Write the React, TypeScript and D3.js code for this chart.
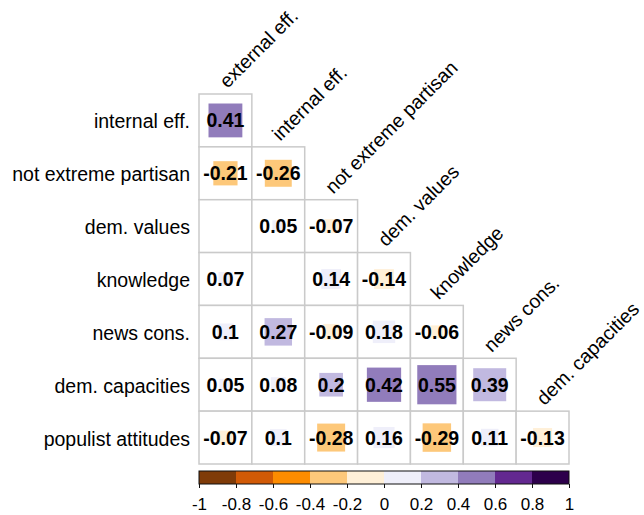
import { useEffect, useRef } from "react";
import * as d3 from "d3";

const colLabels = [
  "external eff.",
  "internal eff.",
  "not extreme partisan",
  "dem. values",
  "knowledge",
  "news cons.",
  "dem. capacities",
];
const rowLabels = [
  "internal eff.",
  "not extreme partisan",
  "dem. values",
  "knowledge",
  "news cons.",
  "dem. capacities",
  "populist attitudes",
];

// lower triangle, null = not shown
const corrRows: (number | null)[][] = [
  [0.41],
  [-0.21, -0.26],
  [null, 0.05, -0.07],
  [0.07, null, 0.14, -0.14],
  [0.1, 0.27, -0.09, 0.18, -0.06],
  [0.05, 0.08, 0.2, 0.42, 0.55, 0.39],
  [-0.07, 0.1, -0.28, 0.16, -0.29, 0.11, -0.13],
];

const binColors = [
  "#7f3b08",
  "#d15a06",
  "#fd8c00",
  "#fdc87a",
  "#fff0d8",
  "#efeffa",
  "#c1b9e0",
  "#917cbb",
  "#632890",
  "#2d004b",
];
const legendTicks = [-1, -0.8, -0.6, -0.4, -0.2, 0, 0.2, 0.4, 0.6, 0.8, 1];

const W = 644;
const H = 515;
const FONT = "Liberation Sans, Arial, sans-serif";

export default function App() {
  const ref = useRef<SVGSVGElement>(null);

  useEffect(() => {
    if (!ref.current) return;
    const svg = d3.select(ref.current);
    svg.selectAll("*").remove();

    const x = d3.scaleBand<string>().domain(colLabels).range([199, 569]);
    const y = d3.scaleBand<string>().domain(rowLabels).range([94, 464]);
    const bw = x.bandwidth();
    const color = d3.scaleQuantize<string>().domain([-1, 1]).range(binColors);
    const size = d3.scaleSqrt().domain([0, 1]).range([0, bw]);

    const cells = corrRows.flatMap((row, i) =>
      row.map((v, j) => ({ r: rowLabels[i], c: colLabels[j], v })),
    );

    const g = svg.append("g");
    g.selectAll("rect.cell")
      .data(cells)
      .join("rect")
      .attr("class", "cell")
      .attr("x", (d) => x(d.c)!)
      .attr("y", (d) => y(d.r)!)
      .attr("width", bw)
      .attr("height", bw)
      .attr("fill", "#fff")
      .attr("stroke", "#cacaca")
      .attr("stroke-width", 1.5);

    const vals = cells.filter((d) => d.v !== null) as { r: string; c: string; v: number }[];

    g.selectAll("rect.sq")
      .data(vals)
      .join("rect")
      .attr("class", "sq")
      .attr("x", (d) => x(d.c)! + bw / 2 - size(Math.abs(d.v)) / 2)
      .attr("y", (d) => y(d.r)! + bw / 2 - size(Math.abs(d.v)) / 2)
      .attr("width", (d) => size(Math.abs(d.v)))
      .attr("height", (d) => size(Math.abs(d.v)))
      .attr("fill", (d) => color(d.v));

    g.selectAll("text.val")
      .data(vals)
      .join("text")
      .attr("class", "val")
      .attr("x", (d) => x(d.c)! + bw / 2)
      .attr("y", (d) => y(d.r)! + bw / 2)
      .attr("dy", "0.36em")
      .attr("text-anchor", "middle")
      .attr("font-family", FONT)
      .attr("font-weight", "bold")
      .attr("font-size", 19.5)
      .attr("fill", "#000")
      .text((d) => String(d.v));

    // row labels
    svg.append("g")
      .selectAll("text")
      .data(rowLabels)
      .join("text")
      .attr("x", 190)
      .attr("y", (d) => y(d)! + bw / 2 + 1)
      .attr("dy", "0.36em")
      .attr("text-anchor", "end")
      .attr("font-family", FONT)
      .attr("font-size", 19.5)
      .attr("fill", "#000")
      .text((d) => d);

    // column labels, rotated
    svg.append("g")
      .selectAll("text")
      .data(colLabels)
      .join("text")
      .attr("transform", (d, i) =>
        `translate(${x(d)! + bw / 2 + 2},${y(rowLabels[i])! - 5}) rotate(-45)`)
      .attr("font-family", FONT)
      .attr("font-size", 19.5)
      .attr("fill", "#000")
      .text((d) => d);

    // legend
    const lx = d3.scaleLinear().domain([-1, 1]).range([199, 569]);
    const lg = svg.append("g");
    lg.selectAll("rect")
      .data(binColors)
      .join("rect")
      .attr("x", (_, i) => lx(legendTicks[i]))
      .attr("y", 471)
      .attr("width", (_, i) => lx(legendTicks[i + 1]) - lx(legendTicks[i]))
      .attr("height", 13)
      .attr("fill", (d) => d);
    lg.append("rect")
      .attr("x", 199).attr("y", 471).attr("width", 370).attr("height", 13)
      .attr("fill", "none").attr("stroke", "#111").attr("stroke-width", 1);

    const axis = d3.axisBottom(lx)
      .tickValues(legendTicks)
      .tickFormat((d) => String(d))
      .tickSize(4)
      .tickSizeOuter(0)
      .tickPadding(10);
    const ag = lg.append("g").attr("transform", "translate(0,484)").call(axis);
    ag.select(".domain").remove();
    ag.selectAll("line").attr("stroke", "#111");
    ag.selectAll("text")
      .attr("font-family", FONT)
      .attr("font-size", 17)
      .attr("fill", "#000");
  }, []);

  return (
    <svg
      ref={ref}
      width={W}
      height={H}
      style={{ position: "absolute", left: 0, top: 0, background: "#fff" }}
    />
  );
}
